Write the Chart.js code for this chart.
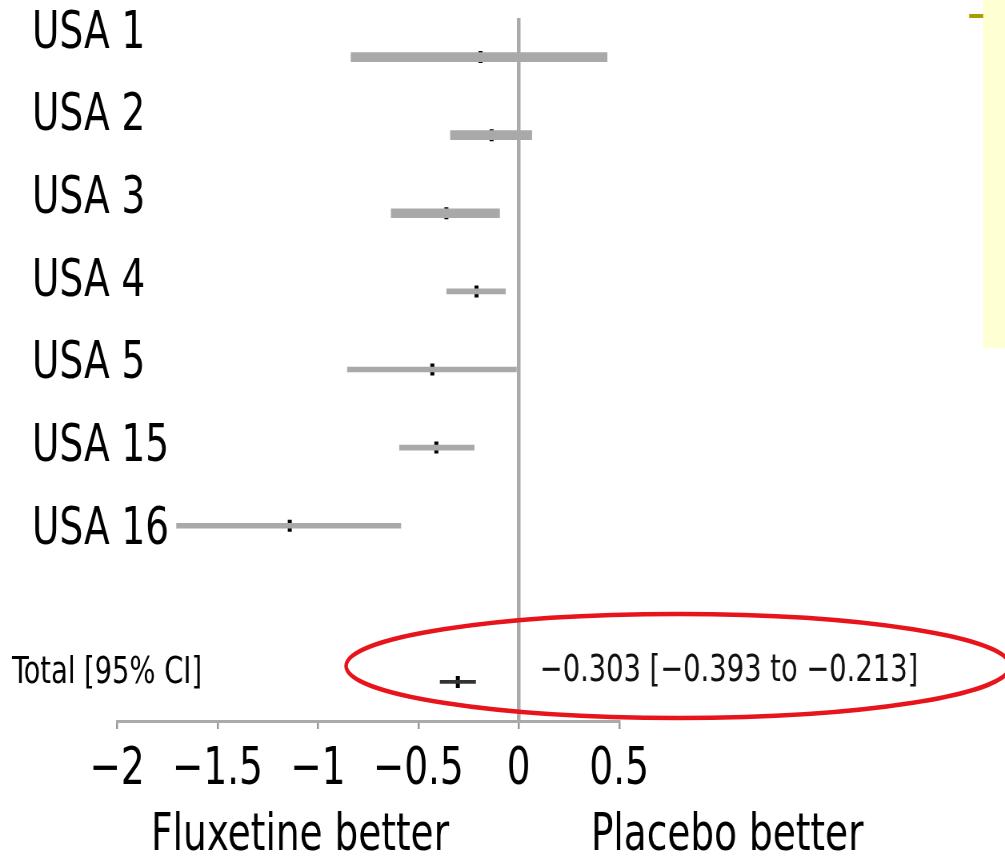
<!DOCTYPE html>
<html>
<head>
<meta charset="utf-8">
<script src="https://cdn.jsdelivr.net/npm/chart.js@4.4.1/dist/chart.umd.min.js"></script>
<style>
  html, body { margin: 0; padding: 0; background: #fff; overflow: hidden; }
  #forest { display: block; }
</style>
</head>
<body>
<!-- the chart is drawn wider and squeezed, which gives the narrow lettering of the original -->
<canvas id="forest" width="1256" height="860" style="width:1005px;height:860px"></canvas>
<script>
// Studies (rows of the forest plot)
const studies = ['USA 1', 'USA 2', 'USA 3', 'USA 4', 'USA 5', 'USA 15', 'USA 16', '', 'Total [95% CI]'];

// Effect size and 95% CI
const effect = [-0.19, -0.135, -0.36, -0.21, -0.43, -0.41, -1.14, null, -0.303];
const ciLow  = [-0.835, -0.34, -0.635, -0.36, -0.855, -0.595, -1.705, null, -0.393];
const ciHigh = [0.44, 0.065, -0.095, -0.065, -0.01, -0.22, -0.585, null, -0.213];

// x axis
const xTicks = [-2, -1.5, -1, -0.5, 0, 0.5];
const summaryText = '\u22120.303 [\u22120.393 to \u22120.213]';
const leftTitle = 'Fluxetine better';
const rightTitle = 'Placebo better';

const SQ = 0.8; // horizontal squeeze of the canvas
const FONT = '"DejaVu Sans Condensed", "DejaVu Sans", sans-serif';
const LAST = studies.length - 1;
const minus = v => (v < 0 ? '\u2212' + Math.abs(v) : String(v));
const px = x => x / SQ; // screen x -> canvas x

// In the original the names column is spaced a little wider than the rows,
// so each name drifts from its row: shift in px for row i
const nameShift = i => (i === LAST ? -8.5 : -23 + 4.6 * i);

// a two-line label with an empty line moves the text up or down by half the line height
const shiftedLabel = (text, i) => {
    const s = nameShift(i);
    if (Math.abs(s) < 1) return text;
    return s < 0 ? [text, ''] : ['', text];
};
const shiftedFont = (size, i) => {
    const s = Math.abs(nameShift(i));
    return { family: FONT, size: size, lineHeight: (s < 1 ? 1.2 : 2 * s + 'px') };
};

// name axes sit flush with the plot; they must not push the plot area down
const nameAxisFit = width => scale => {
    scale.width = width;
    scale.paddingTop = 0;
    scale.paddingBottom = 0;
};

// Extra drawing: yellow side panel, summary text, ellipse, axis side titles
const decorations = {
    id: 'decorations',
    beforeDraw(chart) {
        const ctx = chart.ctx;
        ctx.save();
        ctx.fillStyle = '#ffffd4';
        ctx.fillRect(px(983), 0, px(22), 348);
        ctx.fillStyle = '#a3a000';
        ctx.fillRect(px(969), 14, px(14), 4);
        ctx.restore();
    },
    afterDraw(chart) {
        const ctx = chart.ctx;
        const x = chart.scales.x;
        const y = chart.scales.y;
        const totalY = y.getPixelForValue(LAST);

        ctx.save();
        ctx.fillStyle = '#111';
        ctx.textBaseline = 'middle';
        ctx.textAlign = 'left';
        ctx.font = '38px ' + FONT;
        ctx.fillText(summaryText, x.getPixelForValue(0) + px(21), totalY - 11);

        // red ellipse around the summary
        ctx.strokeStyle = '#e8141c';
        ctx.lineWidth = 4.5;
        ctx.beginPath();
        ctx.ellipse(px(678), totalY - 16, px(332), 52, 0, 0, Math.PI * 2);
        ctx.stroke();

        // titles under the axis
        ctx.fillStyle = '#000';
        ctx.textAlign = 'center';
        ctx.font = '52px ' + FONT;
        ctx.fillText(leftTitle, px(300), 836);
        ctx.fillText(rightTitle, px(727), 836);
        ctx.restore();
    }
};

const points = [];
studies.forEach((s, i) => {
    if (effect[i] !== null) points.push({ x: effect[i], y: s });
});

// bars are drawn 9px thick; a transparent top/bottom border makes the lighter studies thinner
const barInset = c => {
    if (c.dataIndex === LAST) return { top: 3, bottom: 3, left: 0, right: 0 };
    if (c.dataIndex < 3) return 0;
    return { top: 2, bottom: 2, left: 0, right: 0 };
};

const ctx = document.getElementById('forest').getContext('2d');
const forestChart = new Chart(ctx, {
    type: 'bar',
    data: {
        labels: studies,
        datasets: [{
            label: '95% CI',
            xAxisID: 'x',
            yAxisID: 'y',
            data: studies.map((s, i) => (ciLow[i] === null ? null : [ciLow[i], ciHigh[i]])),
            backgroundColor: c => (c.dataIndex === LAST ? '#333' : '#a9a9a9'),
            borderColor: 'rgba(0,0,0,0)',
            borderWidth: barInset,
            borderSkipped: false,
            barThickness: 9
        }, {
            type: 'scatter',
            label: 'Effect',
            xAxisID: 'x',
            yAxisID: 'y',
            data: points,
            pointStyle: 'line',
            rotation: 90,
            radius: 6,
            borderWidth: 5,
            borderColor: '#000',
            backgroundColor: '#000'
        }]
    },
    options: {
        indexAxis: 'y',
        responsive: false,
        devicePixelRatio: 1,
        animation: false,
        layout: { padding: { left: 0, right: 1256 - px(619), top: 18, bottom: 0 } },
        plugins: {
            legend: { display: false },
            tooltip: { enabled: false }
        },
        scales: {
            x: {
                type: 'linear',
                min: -2,
                max: 0.5,
                afterBuildTicks: scale => { scale.ticks = xTicks.map(v => ({ value: v })); },
                afterFit: scale => { scale.height = 139; },
                border: { display: true, color: '#aaa', width: 3 },
                grid: {
                    drawOnChartArea: true,
                    color: c => (c.tick && c.tick.value === 0 ? '#aaa' : 'rgba(0,0,0,0)'),
                    lineWidth: c => (c.tick && c.tick.value === 0 ? 4.5 : 2.5),
                    tickColor: '#999',
                    tickWidth: 2.5,
                    tickLength: 8
                },
                ticks: {
                    color: '#000',
                    padding: 10,
                    autoSkip: false,
                    maxRotation: 0,
                    minRotation: 0,
                    font: { family: FONT, size: 52 },
                    callback: v => minus(v)
                }
            },
            y: {
                type: 'category',
                offset: true,
                weight: 0,
                afterFit: nameAxisFit(px(117)),
                border: { display: false },
                grid: { display: false },
                ticks: {
                    color: '#000',
                    mirror: true,
                    autoSkip: false,
                    padding: px(32) - px(117),
                    font: c => shiftedFont(52, c.index),
                    callback: (v, i) => (i === LAST || studies[i] === '' ? '' : shiftedLabel(studies[i], i))
                }
            },
            totalName: {
                type: 'category',
                position: 'left',
                offset: true,
                weight: 1,
                afterFit: nameAxisFit(0),
                border: { display: false },
                grid: { display: false },
                ticks: {
                    color: '#000',
                    mirror: true,
                    autoSkip: false,
                    padding: px(12),
                    font: c => shiftedFont(38, c.index),
                    callback: (v, i) => (i === LAST ? shiftedLabel(studies[i], i) : '')
                }
            }
        }
    },
    plugins: [decorations]
});
</script>
</body>
</html>
